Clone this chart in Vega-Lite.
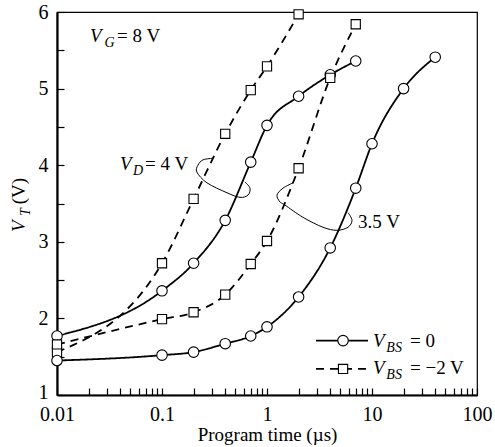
{
  "$schema": "https://vega.github.io/schema/vega-lite/v6.json",
  "width": 420,
  "height": 383,
  "autosize": "none",
  "padding": {"left": 57, "top": 12, "right": 18, "bottom": 52},
  "background": "white",
  "config": {
    "view": {"stroke": "black", "strokeWidth": 1.2},
    "font": "Liberation Serif, Times New Roman, DejaVu Serif, serif",
    "text": {"font": "Liberation Serif, Times New Roman, DejaVu Serif, serif", "color": "black"}
  },
  "datasets": {
    "series": [
      {"x": 0.01, "y": 1.77, "vd": "4 V", "vbs": "0"},
      {"x": 0.1, "y": 2.36, "vd": "4 V", "vbs": "0"},
      {"x": 0.2, "y": 2.72, "vd": "4 V", "vbs": "0"},
      {"x": 0.4, "y": 3.28, "vd": "4 V", "vbs": "0"},
      {"x": 0.7, "y": 4.04, "vd": "4 V", "vbs": "0"},
      {"x": 1, "y": 4.52, "vd": "4 V", "vbs": "0"},
      {"x": 2, "y": 4.9, "vd": "4 V", "vbs": "0"},
      {"x": 4, "y": 5.18, "vd": "4 V", "vbs": "0"},
      {"x": 7, "y": 5.36, "vd": "4 V", "vbs": "0"},
      {"x": 0.01, "y": 1.56, "vd": "4 V", "vbs": "-2"},
      {"x": 0.1, "y": 2.72, "vd": "4 V", "vbs": "-2"},
      {"x": 0.2, "y": 3.56, "vd": "4 V", "vbs": "-2"},
      {"x": 0.4, "y": 4.41, "vd": "4 V", "vbs": "-2"},
      {"x": 0.7, "y": 4.98, "vd": "4 V", "vbs": "-2"},
      {"x": 1, "y": 5.29, "vd": "4 V", "vbs": "-2"},
      {"x": 2, "y": 5.97, "vd": "4 V", "vbs": "-2"},
      {"x": 0.01, "y": 1.45, "vd": "3.5 V", "vbs": "0"},
      {"x": 0.1, "y": 1.52, "vd": "3.5 V", "vbs": "0"},
      {"x": 0.2, "y": 1.56, "vd": "3.5 V", "vbs": "0"},
      {"x": 0.4, "y": 1.67, "vd": "3.5 V", "vbs": "0"},
      {"x": 0.7, "y": 1.77, "vd": "3.5 V", "vbs": "0"},
      {"x": 1, "y": 1.89, "vd": "3.5 V", "vbs": "0"},
      {"x": 2, "y": 2.28, "vd": "3.5 V", "vbs": "0"},
      {"x": 4, "y": 2.92, "vd": "3.5 V", "vbs": "0"},
      {"x": 7, "y": 3.7, "vd": "3.5 V", "vbs": "0"},
      {"x": 10, "y": 4.28, "vd": "3.5 V", "vbs": "0"},
      {"x": 20, "y": 5.0, "vd": "3.5 V", "vbs": "0"},
      {"x": 40, "y": 5.41, "vd": "3.5 V", "vbs": "0"},
      {"x": 0.01, "y": 1.66, "vd": "3.5 V", "vbs": "-2"},
      {"x": 0.1, "y": 1.99, "vd": "3.5 V", "vbs": "-2"},
      {"x": 0.2, "y": 2.08, "vd": "3.5 V", "vbs": "-2"},
      {"x": 0.4, "y": 2.31, "vd": "3.5 V", "vbs": "-2"},
      {"x": 0.7, "y": 2.71, "vd": "3.5 V", "vbs": "-2"},
      {"x": 1, "y": 3.01, "vd": "3.5 V", "vbs": "-2"},
      {"x": 2, "y": 3.96, "vd": "3.5 V", "vbs": "-2"},
      {"x": 4, "y": 5.14, "vd": "3.5 V", "vbs": "-2"},
      {"x": 7, "y": 5.84, "vd": "3.5 V", "vbs": "-2"}
    ],
    "loops": [
      {"loop": "a", "i": 1, "x": 0.306, "y": 4.09},
      {"loop": "a", "i": 2, "x": 0.246, "y": 4.07},
      {"loop": "a", "i": 3, "x": 0.22, "y": 4.0},
      {"loop": "a", "i": 4, "x": 0.215, "y": 3.91},
      {"loop": "a", "i": 5, "x": 0.268, "y": 3.77},
      {"loop": "a", "i": 6, "x": 0.416, "y": 3.64},
      {"loop": "a", "i": 7, "x": 0.553, "y": 3.58},
      {"loop": "a", "i": 8, "x": 0.659, "y": 3.61},
      {"loop": "a", "i": 9, "x": 0.689, "y": 3.7},
      {"loop": "a", "i": 10, "x": 0.617, "y": 3.78},
      {"loop": "b", "i": 1, "x": 1.77, "y": 3.77},
      {"loop": "b", "i": 2, "x": 1.42, "y": 3.7},
      {"loop": "b", "i": 3, "x": 1.245, "y": 3.61},
      {"loop": "b", "i": 4, "x": 1.33, "y": 3.52},
      {"loop": "b", "i": 5, "x": 1.48, "y": 3.48},
      {"loop": "b", "i": 6, "x": 2.2, "y": 3.32},
      {"loop": "b", "i": 7, "x": 3.41, "y": 3.19},
      {"loop": "b", "i": 8, "x": 4.64, "y": 3.15},
      {"loop": "b", "i": 9, "x": 5.91, "y": 3.19},
      {"loop": "b", "i": 10, "x": 6.45, "y": 3.28},
      {"loop": "b", "i": 11, "x": 5.91, "y": 3.38}
    ],
    "legendLines": [
      {"x": 2.93, "x2": 9.16, "y": 1.71, "vbs": "0"},
      {"x": 2.93, "x2": 9.16, "y": 1.34, "vbs": "-2"}
    ],
    "legendPts": [
      {"x": 5.3, "y": 1.71, "vbs": "0"},
      {"x": 5.3, "y": 1.34, "vbs": "-2"}
    ],
    "italic": [
      {"x": 0.0206, "y": 5.61, "t": "V"},
      {"x": 0.0398, "y": 3.937, "t": "V"},
      {"x": 10.2, "y": 1.627, "t": "V"},
      {"x": 10.2, "y": 1.274, "t": "V"}
    ],
    "sub": [
      {"x": 0.0283, "y": 5.61, "t": "G"},
      {"x": 0.053, "y": 3.937, "t": "D"},
      {"x": 13.7, "y": 1.627, "t": "BS"},
      {"x": 13.7, "y": 1.274, "t": "BS"}
    ],
    "roman": [
      {"x": 0.0373, "y": 5.61, "t": "= 8 V"},
      {"x": 0.0689, "y": 3.937, "t": "= 4 V"},
      {"x": 7.36, "y": 3.18, "t": "3.5 V"},
      {"x": 23.0, "y": 1.627, "t": "= 0"},
      {"x": 23.0, "y": 1.274, "t": "= \u22122 V"}
    ],
    "ytitleItalic": [{"x": 0.00496, "y": 3.128, "t": "V"}],
    "ytitleSub": [{"x": 0.00496, "y": 3.337, "t": "T"}],
    "ytitleRoman": [{"x": 0.00496, "y": 3.49, "t": "(V)"}]
  },
  "encoding": {
    "x": {
      "field": "x",
      "type": "quantitative",
      "scale": {"type": "log", "domain": [0.01, 100]},
      "axis": {
        "values": [0.01, 0.02, 0.03, 0.04, 0.05, 0.06, 0.07, 0.08, 0.09, 0.1, 0.2, 0.3, 0.4, 0.5, 0.6, 0.7, 0.8, 0.9, 1, 2, 3, 4, 5, 6, 7, 8, 9, 10, 20, 30, 40, 50, 60, 70, 80, 90, 100],
        "labelExpr": "abs(log(datum.value)/LN10 - round(log(datum.value)/LN10)) < 0.000001 ? format(datum.value, '~g') : ''",
        "title": "Program time (µs)",
        "titleFont": "Liberation Serif, Times New Roman, DejaVu Serif, serif",
        "titleFontSize": 19,
        "titleFontWeight": "normal",
        "titleColor": "black",
        "titlePadding": 1,
        "labelFont": "Liberation Serif, Times New Roman, DejaVu Serif, serif",
        "labelFontSize": 20,
        "labelColor": "black",
        "labelFlush": false,
        "labelOverlap": false,
        "labelBound": false,
        "labelPadding": 16,
        "tickSize": -7,
        "tickColor": "black",
        "tickWidth": 1.2,
        "domainColor": "black",
        "domainWidth": 2.2,
        "grid": false
      }
    },
    "y": {
      "field": "y",
      "type": "quantitative",
      "scale": {"domain": [1, 6]},
      "axis": {
        "values": [1, 1.5, 2, 2.5, 3, 3.5, 4, 4.5, 5, 5.5, 6],
        "labelExpr": "datum.value % 1 == 0 ? format(datum.value, 'd') : ''",
        "title": null,
        "labelFont": "Liberation Serif, Times New Roman, DejaVu Serif, serif",
        "labelFontSize": 20,
        "labelColor": "black",
        "labelFlush": false,
        "labelOverlap": false,
        "labelBound": false,
        "labelPadding": 16,
        "labelOffset": {"condition": {"test": "datum.value == 1", "value": -3}, "value": 0},
        "tickSize": -7,
        "tickColor": "black",
        "tickWidth": 1.2,
        "domainColor": "black",
        "domainWidth": 2.2,
        "grid": false
      }
    }
  },
  "layer": [
    {
      "data": {"name": "series"},
      "mark": {"type": "line", "interpolate": "monotone", "color": "black", "strokeWidth": 1.8},
      "encoding": {
        "detail": {"field": "vd", "type": "nominal"},
        "strokeDash": {"field": "vbs", "type": "nominal", "scale": {"domain": ["0", "-2"], "range": [[1, 0], [8, 6]]}, "legend": null}
      }
    },
    {
      "data": {"name": "loops"},
      "mark": {"type": "line", "interpolate": "cardinal", "color": "black", "strokeWidth": 1},
      "encoding": {
        "detail": {"field": "loop", "type": "nominal"},
        "order": {"field": "i", "type": "quantitative"}
      }
    },
    {
      "data": {"name": "legendLines"},
      "mark": {"type": "rule", "color": "black", "strokeWidth": 1.8},
      "encoding": {
        "x2": {"field": "x2"},
        "strokeDash": {"field": "vbs", "type": "nominal", "scale": {"domain": ["0", "-2"], "range": [[1, 0], [8, 6]]}, "legend": null}
      }
    },
    {
      "data": {"name": "series"},
      "mark": {"type": "point", "filled": true, "fill": "white", "stroke": "black", "strokeWidth": 1.1, "opacity": 1},
      "encoding": {
        "shape": {"field": "vbs", "type": "nominal", "scale": {"domain": ["0", "-2"], "range": ["circle", "square"]}, "legend": null},
        "size": {"field": "vbs", "type": "nominal", "scale": {"domain": ["0", "-2"], "range": [110, 85]}, "legend": null}
      }
    },
    {
      "data": {"name": "legendPts"},
      "mark": {"type": "point", "filled": true, "fill": "white", "stroke": "black", "strokeWidth": 1.1, "opacity": 1},
      "encoding": {
        "shape": {"field": "vbs", "type": "nominal", "scale": {"domain": ["0", "-2"], "range": ["circle", "square"]}, "legend": null},
        "size": {"field": "vbs", "type": "nominal", "scale": {"domain": ["0", "-2"], "range": [110, 85]}, "legend": null}
      }
    },
    {
      "data": {"name": "italic"},
      "mark": {"type": "text", "align": "left", "baseline": "alphabetic", "fontSize": 19, "fontStyle": "italic"},
      "encoding": {"text": {"field": "t"}}
    },
    {
      "data": {"name": "sub"},
      "mark": {"type": "text", "align": "left", "baseline": "alphabetic", "fontSize": 14, "fontStyle": "italic", "dy": 5},
      "encoding": {"text": {"field": "t"}}
    },
    {
      "data": {"name": "roman"},
      "mark": {"type": "text", "align": "left", "baseline": "alphabetic", "fontSize": 19},
      "encoding": {"text": {"field": "t"}}
    },
    {
      "data": {"name": "ytitleItalic"},
      "mark": {"type": "text", "align": "left", "baseline": "alphabetic", "fontSize": 19, "fontStyle": "italic", "angle": 270},
      "encoding": {"text": {"field": "t"}}
    },
    {
      "data": {"name": "ytitleSub"},
      "mark": {"type": "text", "align": "left", "baseline": "alphabetic", "fontSize": 14, "fontStyle": "italic", "angle": 270, "dy": 5},
      "encoding": {"text": {"field": "t"}}
    },
    {
      "data": {"name": "ytitleRoman"},
      "mark": {"type": "text", "align": "left", "baseline": "alphabetic", "fontSize": 19, "angle": 270},
      "encoding": {"text": {"field": "t"}}
    }
  ]
}
